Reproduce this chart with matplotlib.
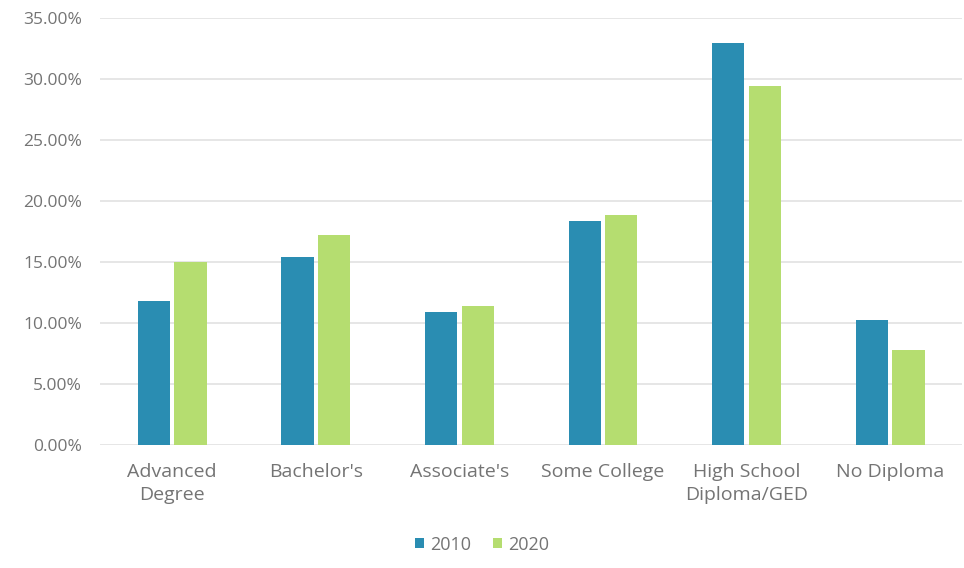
import matplotlib
matplotlib.use("Agg")
import matplotlib.pyplot as plt
import numpy as np
from matplotlib.ticker import FuncFormatter, MultipleLocator

plt.rcParams['font.family'] = ['Open Sans', 'DejaVu Sans']

categories = ["Advanced\nDegree", "Bachelor's", "Associate's", "Some College",
              "High School\nDiploma/GED", "No Diploma"]
share_2010 = [11.8, 15.4, 10.9, 18.4, 32.95, 10.3]
share_2020 = [15.05, 17.2, 11.4, 18.9, 29.45, 7.8]
series_labels = ["2010", "2020"]

color_2010 = "#2a8db2"
color_2020 = "#b5dd70"
text_color = "#747474"

fig = plt.figure(figsize=(9.64, 5.68), dpi=100)
ax = fig.add_axes([0.104, 0.216, 0.894, 0.752])

x = np.arange(len(categories))
width = 0.225
gap = 0.03
ax.bar(x - (width + gap) / 2, share_2010, width, color=color_2010, label=series_labels[0], zorder=3)
ax.bar(x + (width + gap) / 2, share_2020, width, color=color_2020, label=series_labels[1], zorder=3)

ax.set_xlim(-0.5, len(categories) - 0.5)
ax.set_ylim(0, 35)
ax.yaxis.set_major_locator(MultipleLocator(5))
ax.yaxis.set_major_formatter(FuncFormatter(lambda v, _: f"{v:.2f}%"))
ax.grid(axis='y', color="#e2e2e2", linewidth=1.2, zorder=0)

ax.set_xticks(x)
ax.set_xticklabels(categories, fontsize=14, color=text_color, linespacing=1.3)
ax.tick_params(axis='y', labelsize=12.5, labelcolor=text_color, length=0, pad=13)
ax.tick_params(axis='x', length=0, pad=13)

for spine in ax.spines.values():
    spine.set_visible(False)

leg = fig.legend(loc='center', bbox_to_anchor=(0.5, 0.041), ncol=2, frameon=False,
                 fontsize=13, handlelength=0.5, handleheight=0.5, handletextpad=0.35,
                 columnspacing=1.2, labelcolor=text_color)

fig.savefig("out.png", dpi=100, facecolor="white")
